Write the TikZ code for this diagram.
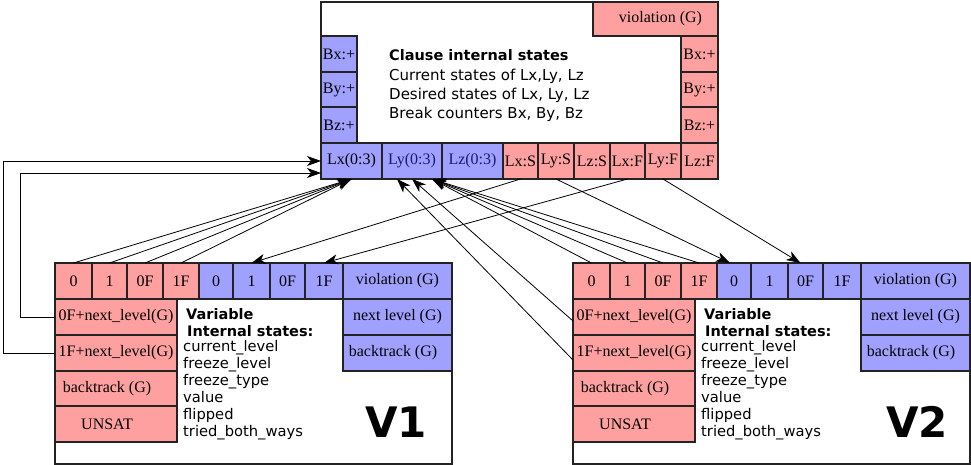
\documentclass[tikz,border=0pt]{standalone}
\usepackage{fontspec}
\setmainfont{Liberation Serif}
\newfontfamily\dvsans{DejaVu Sans}
\usetikzlibrary{arrows.meta,calc}
\definecolor{cred}{RGB}{255,160,160}
\definecolor{cblue}{RGB}{160,160,255}
\definecolor{cedge}{RGB}{35,35,35}
\definecolor{cnavy}{RGB}{25,25,110}
\tikzset{
  cell/.style={draw=cedge, line width=1.2pt, inner sep=0pt, outer sep=0pt,
    anchor=north west, font=\fontsize{16}{19}\selectfont},
  rc/.style={cell, fill=cred},
  bc/.style={cell, fill=cblue},
  box/.style={draw=cedge, line width=1.2pt, fill=white, inner sep=0pt,
    outer sep=0pt, anchor=north west},
  conn/.style={draw=black, line width=0.8pt,
    -{Stealth[length=14pt,width=10pt,inset=4pt]}},
  txt/.style={inner sep=0pt, anchor=base west,
    font=\dvsans\fontsize{14.7}{17}\selectfont},
  ctxt/.style={inner sep=0pt, anchor=base west,
    font=\dvsans\fontsize{15}{19}\selectfont},
  btxt/.style={inner sep=0pt, anchor=base west,
    font=\dvsans\bfseries\fontsize{14.5}{17}\selectfont},
  bigtxt/.style={inner sep=0pt, anchor=base west,
    font=\dvsans\bfseries\fontsize{42}{48}\selectfont}
}
\newcommand\mkvariable[4]{%
\begin{scope}[xshift=#2pt]
\node[box, minimum width=397pt, minimum height=201pt] (#1box) at (55,263) {};
\node[rc, minimum width=37pt, minimum height=36pt] (#1r0) at (55,263) {0};
\node[rc, minimum width=35pt, minimum height=36pt] (#1r1) at (92,263) {1};
\node[rc, minimum width=36pt, minimum height=36pt] (#1r0F) at (127,263) {0F};
\node[rc, minimum width=36pt, minimum height=36pt] (#1r1F) at (163,263) {1F};
\node[bc, minimum width=34pt, minimum height=36pt] (#1b0) at (199,263) {0};
\node[bc, minimum width=37pt, minimum height=36pt] (#1b1) at (233,263) {1};
\node[bc, minimum width=35pt, minimum height=36pt] (#1b0F) at (270,263) {0F};
\node[bc, minimum width=38pt, minimum height=36pt] (#1b1F) at (305,263) {1F};
\node[bc, minimum width=109pt, minimum height=36pt] (#1viol) at (343,263) {violation (G)};
\node[bc, minimum width=109pt, minimum height=36pt] (#1next) at (343,299) {next level (G)};
\node[bc, minimum width=109pt, minimum height=36pt] (#1bt) at (343,335) {\hspace*{-9pt}backtrack (G)};
\node[rc, minimum width=122pt, minimum height=36pt] (#1l1) at (55,299) {0F+next\_level(G)};
\node[rc, minimum width=122pt, minimum height=36pt] (#1l2) at (55,335) {1F+next\_level(G)};
\node[rc, minimum width=122pt, minimum height=35pt] (#1bk) at (55,371) {\hspace*{-18pt}backtrack (G)};
\node[rc, minimum width=122pt, minimum height=36pt] (#1us) at (55,406) {\hspace*{-18pt}UNSAT};
\node[btxt] (#1t0) at (186,319) {Variable};
\node[btxt] (#1t1) at (187,336) {Internal states:};
\node[txt] (#1t2) at (183,351) {current\_level};
\node[txt] (#1t3) at (183,368) {freeze\_level};
\node[txt] (#1t4) at (183,385) {freeze\_type};
\node[txt] (#1t5) at (183,402) {value};
\node[txt] (#1t6) at (183,419) {flipped};
\node[txt] (#1t7) at (183,436) {tried\_both\_ways};
\node[bigtxt] (#1name) at (#4,437) {#3};
\end{scope}}
\begin{document}
\begin{tikzpicture}[x=1pt,y=-1pt]
\useasboundingbox (0,0) rectangle (971,465);
% clause block
\node[box, minimum width=397pt, minimum height=177pt] (clause) at (321,2) {};
\node[rc, minimum width=125pt, minimum height=34pt] (cviol) at (593,2) {\hspace*{10pt}violation (G)};
\node[bc, minimum width=36pt, minimum height=36pt] (cBxl) at (321,36) {Bx:+};
\node[bc, minimum width=36pt, minimum height=35pt] (cByl) at (321,72) {By:+};
\node[bc, minimum width=36pt, minimum height=36pt] (cBzl) at (321,107) {Bz:+};
\node[rc, minimum width=37pt, minimum height=36pt] (cBxr) at (681,36) {Bx:+};
\node[rc, minimum width=37pt, minimum height=35pt] (cByr) at (681,72) {By:+};
\node[rc, minimum width=37pt, minimum height=36pt] (cBzr) at (681,107) {Bz:+};
\node[bc, minimum width=61pt, minimum height=36pt] (cLx) at (321,143) {Lx(0:3)};
\node[bc, minimum width=60pt, minimum height=36pt, text=cnavy] (cLy) at (382,143) {Ly(0:3)};
\node[bc, minimum width=61pt, minimum height=36pt, text=cnavy] (cLz) at (442,143) {Lz(0:3)};
\node[rc, minimum width=35pt, minimum height=36pt] (cLxS) at (503,143) {Lx:S};
\node[rc, minimum width=36pt, minimum height=36pt] (cLyS) at (538,143) {Ly:S};
\node[rc, minimum width=36pt, minimum height=36pt] (cLzS) at (574,143) {Lz:S};
\node[rc, minimum width=35pt, minimum height=36pt] (cLxF) at (610,143) {Lx:F};
\node[rc, minimum width=36pt, minimum height=36pt] (cLyF) at (645,143) {Ly:F};
\node[rc, minimum width=37pt, minimum height=36pt] (cLzF) at (681,143) {Lz:F};
\node[btxt] (ct0) at (389,61) {Clause internal states};
\node[ctxt] (ct1) at (389,81) {Current states of Lx,Ly, Lz};
\node[ctxt] (ct2) at (389,100) {Desired states of Lx, Ly, Lz};
\node[ctxt] (ct3) at (389,119) {Break counters Bx, By, Bz};
% variable blocks
\mkvariable{A}{0}{V1}{365}
\mkvariable{B}{518}{V2}{368}
% connectors
\coordinate (j1) at (20,173);
\coordinate (j2) at (3,161);
\draw[conn] (Al1.west) -| (j1) -- (cLx.west |- j1);
\draw[conn] (Al2.west) -| (j2) -- (cLx.west |- j2);
\foreach \c in {r0,r1,r0F,r1F} \draw[conn] (A\c.north) -- (cLx.south);
\coordinate (lyR) at ($(cLy.south)+(20,0)$);
\coordinate (lyL) at ($(cLy.south)+(-15,0)$);
\coordinate (bA) at ($(Bl1.west)+(0,4)$);
\coordinate (bB) at ($(Bl2.west)+(0,7)$);
\foreach \c in {r0,r1,r0F,r1F} \draw[conn] (B\c.north) -- (lyR);
\draw[conn] (bA) -- (cLy.south);
\draw[conn] (bB) -- (lyL);
\coordinate (tB0) at ($(Bb0.north)+(-4,0)$);
\coordinate (tB0F) at ($(Bb0F.north)+(-5,0)$);
\draw[conn] (cLxS.south) -- (Ab1.north);
\draw[conn] (cLxF.south) -- (Ab1F.north);
\draw[conn] (cLyS.south) -- (tB0);
\draw[conn] (cLyF.south) -- (tB0F);
\end{tikzpicture}
\end{document}
